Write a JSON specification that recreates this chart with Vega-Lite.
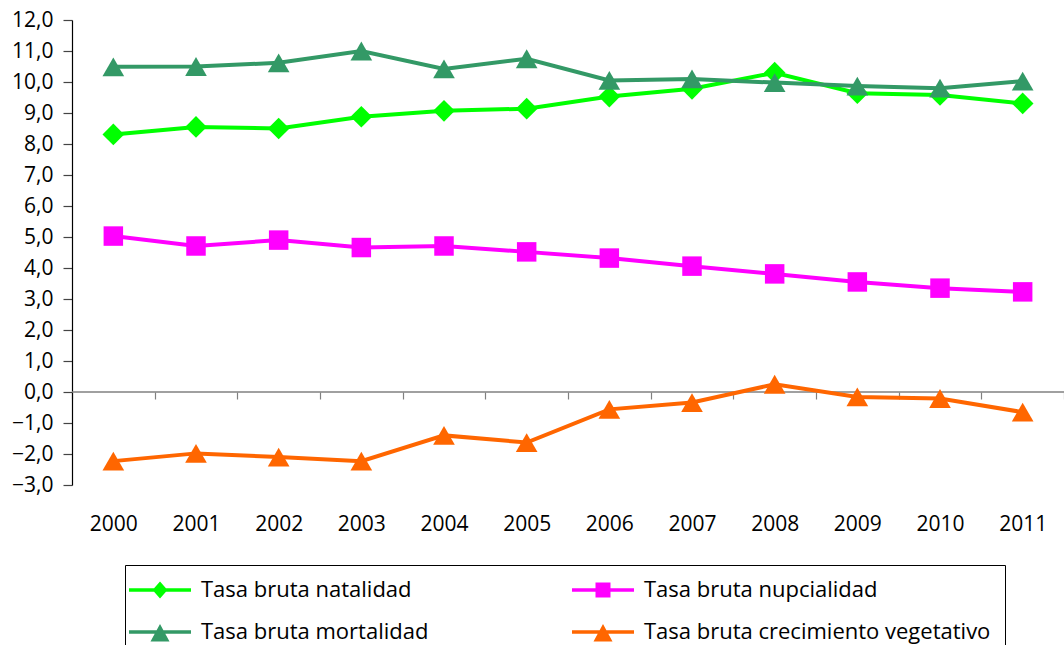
{
  "$schema": "https://vega.github.io/schema/vega-lite/v6.json",
  "width": 992,
  "height": 465,
  "autosize": {"type": "none"},
  "padding": {"left": 72, "top": 20, "right": 0, "bottom": 160},
  "config": {
    "view": {"stroke": null},
    "font": "Open Sans",
    "axisY": {
      "title": null, "grid": false, "tickCount": 15, "labelOverlap": false,
      "labelExpr": "replace(format(datum.value, '.1f'), '.', ',')",
      "domainColor": "#000000", "domainWidth": 1.2, "tickColor": "#444444", "tickSize": 9, "tickWidth": 1.2,
      "labelFontSize": 21, "labelColor": "#000000", "labelPadding": 10, "labelFont": "Open Sans"
    }
  },
  "resolve": {"legend": {"color": "independent", "shape": "independent"}},
  "datasets": {
    "tasas": [
      {"year": "2000", "serie": "Tasa bruta natalidad", "value": 8.31},
      {"year": "2001", "serie": "Tasa bruta natalidad", "value": 8.55},
      {"year": "2002", "serie": "Tasa bruta natalidad", "value": 8.5},
      {"year": "2003", "serie": "Tasa bruta natalidad", "value": 8.88},
      {"year": "2004", "serie": "Tasa bruta natalidad", "value": 9.07},
      {"year": "2005", "serie": "Tasa bruta natalidad", "value": 9.14},
      {"year": "2006", "serie": "Tasa bruta natalidad", "value": 9.53},
      {"year": "2007", "serie": "Tasa bruta natalidad", "value": 9.78},
      {"year": "2008", "serie": "Tasa bruta natalidad", "value": 10.3},
      {"year": "2009", "serie": "Tasa bruta natalidad", "value": 9.64},
      {"year": "2010", "serie": "Tasa bruta natalidad", "value": 9.58},
      {"year": "2011", "serie": "Tasa bruta natalidad", "value": 9.31},
      {"year": "2000", "serie": "Tasa bruta nupcialidad", "value": 5.03},
      {"year": "2001", "serie": "Tasa bruta nupcialidad", "value": 4.71},
      {"year": "2002", "serie": "Tasa bruta nupcialidad", "value": 4.9},
      {"year": "2003", "serie": "Tasa bruta nupcialidad", "value": 4.66},
      {"year": "2004", "serie": "Tasa bruta nupcialidad", "value": 4.71},
      {"year": "2005", "serie": "Tasa bruta nupcialidad", "value": 4.52},
      {"year": "2006", "serie": "Tasa bruta nupcialidad", "value": 4.32},
      {"year": "2007", "serie": "Tasa bruta nupcialidad", "value": 4.06},
      {"year": "2008", "serie": "Tasa bruta nupcialidad", "value": 3.81},
      {"year": "2009", "serie": "Tasa bruta nupcialidad", "value": 3.55},
      {"year": "2010", "serie": "Tasa bruta nupcialidad", "value": 3.35},
      {"year": "2011", "serie": "Tasa bruta nupcialidad", "value": 3.23},
      {"year": "2000", "serie": "Tasa bruta mortalidad", "value": 10.49},
      {"year": "2001", "serie": "Tasa bruta mortalidad", "value": 10.5},
      {"year": "2002", "serie": "Tasa bruta mortalidad", "value": 10.62},
      {"year": "2003", "serie": "Tasa bruta mortalidad", "value": 11.0},
      {"year": "2004", "serie": "Tasa bruta mortalidad", "value": 10.42},
      {"year": "2005", "serie": "Tasa bruta mortalidad", "value": 10.75},
      {"year": "2006", "serie": "Tasa bruta mortalidad", "value": 10.05},
      {"year": "2007", "serie": "Tasa bruta mortalidad", "value": 10.1},
      {"year": "2008", "serie": "Tasa bruta mortalidad", "value": 9.98},
      {"year": "2009", "serie": "Tasa bruta mortalidad", "value": 9.87},
      {"year": "2010", "serie": "Tasa bruta mortalidad", "value": 9.8},
      {"year": "2011", "serie": "Tasa bruta mortalidad", "value": 10.03},
      {"year": "2000", "serie": "Tasa bruta crecimiento vegetativo", "value": -2.23},
      {"year": "2001", "serie": "Tasa bruta crecimiento vegetativo", "value": -1.98},
      {"year": "2002", "serie": "Tasa bruta crecimiento vegetativo", "value": -2.1},
      {"year": "2003", "serie": "Tasa bruta crecimiento vegetativo", "value": -2.23},
      {"year": "2004", "serie": "Tasa bruta crecimiento vegetativo", "value": -1.4},
      {"year": "2005", "serie": "Tasa bruta crecimiento vegetativo", "value": -1.63},
      {"year": "2006", "serie": "Tasa bruta crecimiento vegetativo", "value": -0.56},
      {"year": "2007", "serie": "Tasa bruta crecimiento vegetativo", "value": -0.34},
      {"year": "2008", "serie": "Tasa bruta crecimiento vegetativo", "value": 0.25},
      {"year": "2009", "serie": "Tasa bruta crecimiento vegetativo", "value": -0.16},
      {"year": "2010", "serie": "Tasa bruta crecimiento vegetativo", "value": -0.21},
      {"year": "2011", "serie": "Tasa bruta crecimiento vegetativo", "value": -0.65}
    ]
  },
  "layer": [
    {
      "data": {"values": [{"zero": 0}]},
      "mark": {"type": "rule", "color": "#808080", "strokeWidth": 1.5},
      "encoding": {
        "y": {"field": "zero", "type": "quantitative", "scale": {"domain": [-3, 12], "nice": false, "zero": false}}
      }
    },
    {
      "data": {"name": "tasas"},
      "resolve": {"legend": {"color": "independent", "shape": "independent"}},
      "encoding": {
        "x": {
          "field": "year", "type": "ordinal", "bandPosition": 0.5,
          "scale": {"type": "band", "paddingInner": 0, "paddingOuter": 0},
          "axis": {
            "title": null, "domain": false, "offset": -93, "tickBand": "extent",
            "tickColor": "#808080", "tickSize": 7, "tickWidth": 1.2,
            "labelAngle": 0, "labelFontSize": 21, "labelColor": "#000000",
            "labelBaseline": "middle", "labelPadding": 125, "labelFont": "Open Sans"
          }
        },
        "y": {
          "field": "value", "type": "quantitative",
          "scale": {"domain": [-3, 12], "nice": false, "zero": false}
        }
      },
      "layer": [
        {
          "mark": {"type": "line", "strokeWidth": 4},
          "encoding": {
            "color": {
              "field": "serie", "type": "nominal",
              "scale": {
                "domain": ["Tasa bruta natalidad", "Tasa bruta nupcialidad", "Tasa bruta mortalidad", "Tasa bruta crecimiento vegetativo"],
                "range": ["#00FF00", "#FF00FF", "#339966", "#FF6600"]
              },
              "legend": null
            }
          }
        },
        {
          "transform": [{"filter": "datum.serie === 'Tasa bruta natalidad'"}],
          "mark": {"type": "point", "filled": true, "opacity": 1, "size": 470, "shape": "diamond", "color": "#00FF00"}
        },
        {
          "transform": [{"filter": "datum.serie === 'Tasa bruta nupcialidad'"}],
          "mark": {"type": "point", "filled": true, "opacity": 1, "size": 380, "shape": "square", "color": "#FF00FF"}
        },
        {
          "transform": [{"filter": "datum.serie === 'Tasa bruta mortalidad'"}],
          "mark": {"type": "point", "filled": true, "opacity": 1, "size": 470, "shape": "triangle-up", "color": "#339966"}
        },
        {
          "transform": [{"filter": "datum.serie === 'Tasa bruta crecimiento vegetativo'"}],
          "mark": {"type": "point", "filled": true, "opacity": 1, "size": 470, "shape": "triangle-up", "color": "#FF6600"}
        },
        {
          "transform": [{"filter": "false"}],
          "mark": {"type": "point", "filled": true, "opacity": 1},
          "encoding": {
            "color": {
              "field": "serie", "type": "nominal",
              "scale": {
                "domain": ["Tasa bruta natalidad", "Tasa bruta nupcialidad", "Tasa bruta mortalidad", "Tasa bruta crecimiento vegetativo"],
                "range": ["#00FF00", "#FF00FF", "#339966", "#FF6600"]
              },
              "legend": {
                "title": null, "orient": "none", "legendX": 53, "legendY": 545,
                "direction": "horizontal", "columns": 2, "columnPadding": 143, "rowPadding": 20,
                "padding": 14, "strokeColor": "#000000", "fillColor": "#ffffff",
                "symbolSize": 100, "symbolStrokeWidth": 0, "symbolOffset": 10, "symbolOpacity": 1,
                "labelOffset": 30, "labelFontSize": 22, "labelFont": "Open Sans", "labelColor": "#000000", "labelLimit": 500
              }
            },
            "shape": {
              "field": "serie", "type": "nominal",
              "scale": {
                "domain": ["Tasa bruta natalidad", "Tasa bruta nupcialidad", "Tasa bruta mortalidad", "Tasa bruta crecimiento vegetativo"],
                "range": [
                  "M-6.2,-0.35L6.2,-0.35L6.2,0.35L-6.2,0.35ZM0,-1.7L1.5,0L0,1.7L-1.5,0Z",
                  "M-6.2,-0.35L6.2,-0.35L6.2,0.35L-6.2,0.35ZM-1.5,-1.5L1.5,-1.5L1.5,1.5L-1.5,1.5Z",
                  "M-6.2,-0.35L6.2,-0.35L6.2,0.35L-6.2,0.35ZM0,-1.6L1.9,1.9L-1.9,1.9Z",
                  "M-6.2,-0.35L6.2,-0.35L6.2,0.35L-6.2,0.35ZM0,-1.6L1.9,1.9L-1.9,1.9Z"
                ]
              }
            }
          }
        }
      ]
    }
  ]
}
